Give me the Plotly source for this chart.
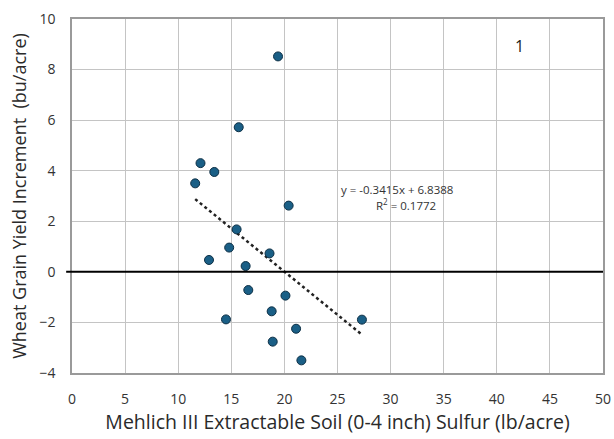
import plotly.graph_objects as go
import numpy as np

sulfur = [19.4, 15.7, 12.1, 13.4, 11.6, 20.4, 15.5, 14.8, 18.6, 12.9,
          16.35, 16.6, 20.1, 18.8, 14.5, 27.3, 21.1, 18.9, 21.6]
yield_inc = [8.52, 5.72, 4.30, 3.95, 3.50, 2.62, 1.68, 0.96, 0.73, 0.47,
             0.23, -0.72, -0.94, -1.56, -1.88, -1.89, -2.25, -2.76, -3.50]
slope = -0.3415
intercept = 6.8388
r2 = 0.1772
x_ticks = [0, 5, 10, 15, 20, 25, 30, 35, 40, 45, 50]
y_ticks = [-4, -2, 0, 2, 4, 6, 8, 10]

font_family = "Open Sans, Liberation Sans, sans-serif"

tx = np.array([min(sulfur), max(sulfur)])
ty = slope * tx + intercept

fig = go.Figure()
fig.add_trace(go.Scatter(x=tx, y=ty, mode="lines",
                         line=dict(color="#222222", width=2.5, dash="dot"),
                         hoverinfo="skip", showlegend=False))
fig.add_trace(go.Scatter(x=sulfur, y=yield_inc, mode="markers",
                         marker=dict(size=9, color="#1a5f86",
                                     line=dict(color="#0d2f45", width=1)),
                         showlegend=False))

fig.add_shape(type="line", xref="paper", yref="y", x0=-0.011, x1=1, y0=0, y1=0,
              line=dict(color="black", width=2))

fig.add_annotation(x=36.0, y=3.27, xref="x", yref="y", xanchor="right",
                   text=f"y = {slope}x + {intercept}", showarrow=False,
                   borderpad=0,
                   font=dict(family=font_family, size=11.5, color="#333333"))
fig.add_annotation(x=34.4, y=2.68, xref="x", yref="y", xanchor="right",
                   text=f"R<sup>2</sup> = {r2}", showarrow=False,
                   borderpad=0,
                   font=dict(family=font_family, size=11.5, color="#333333"))
fig.add_annotation(x=42.1, y=8.92, xref="x", yref="y",
                   text="1", showarrow=False,
                   font=dict(family=font_family, size=16, color="#222222"))

fig.update_layout(
    width=614, height=439,
    margin=dict(l=72, r=11, t=19, b=66),
    paper_bgcolor="white", plot_bgcolor="white",
    font=dict(family=font_family, color="#333333"),
    xaxis=dict(range=[0, 50], tickvals=x_ticks, showgrid=True, automargin=False,
               gridcolor="#c4c4c4", gridwidth=1.3, zeroline=False,
               showline=True, linecolor="#9a9a9a", linewidth=1.5, mirror=True,
               ticks="outside", ticklen=12, tickcolor="rgba(0,0,0,0)",
               tickfont=dict(size=14, color="#333333"),
               title=dict(text="Mehlich III Extractable Soil (0-4 inch) Sulfur (lb/acre)",
                          font=dict(size=19.5, color="#2a2a2a"), standoff=8)),
    yaxis=dict(range=[-4, 10], tickvals=y_ticks, showgrid=True, automargin=False,
               gridcolor="#c4c4c4", gridwidth=1.3, zeroline=False,
               showline=True, linecolor="#9a9a9a", linewidth=1.5, mirror=True,
               ticks="outside", ticklen=12, tickcolor="rgba(0,0,0,0)",
               tickfont=dict(size=14, color="#333333"),
               title=dict(text="Wheat Grain Yield Increment  (bu/acre)",
                          font=dict(size=18, color="#2a2a2a"), standoff=8)),
)

fig.write_html("out.html", config={"displayModeBar": False},
               post_script="document.body.style.margin='0px';")
